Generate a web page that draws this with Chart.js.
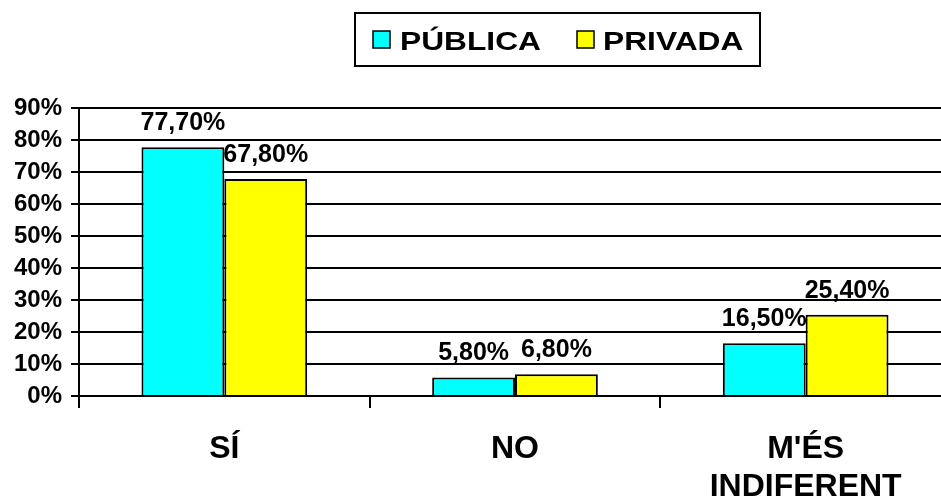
<!DOCTYPE html>
<html>
<head>
<meta charset="utf-8">
<script src="https://cdn.jsdelivr.net/npm/chart.js@4/dist/chart.umd.min.js"></script>
<style>
    html, body { margin: 0; padding: 0; background: #fff; overflow: hidden; }
    #wrap { width: 961px; height: 498px; }
</style>
</head>
<body>
<div id="wrap"><canvas id="chartOne" width="961" height="498"></canvas></div>
<script>
// Data
const categories = ['SÍ', 'NO', ["M'ÉS", 'INDIFERENT']];
const seriesNames = ['PÚBLICA', 'PRIVADA'];
const publica = [77.7, 5.8, 16.5];
const privada = [67.8, 6.8, 25.4];
const yTicks = [0, 10, 20, 30, 40, 50, 60, 70, 80, 90];

const colors = ['#00FFFF', '#FFFF00'];
const fontFamily = '"Liberation Sans", Arial, Helvetica, sans-serif';

// Utility
const formatPct = v => v.toFixed(2).replace('.', ',') + '%';

// Value labels above each bar
const valueLabels = {
    id: 'valueLabels',
    afterDatasetsDraw(chart) {
        const ctx = chart.ctx;
        ctx.save();
        ctx.font = 'bold 25px ' + fontFamily;
        ctx.fillStyle = '#000';
        ctx.textAlign = 'center';
        ctx.textBaseline = 'alphabetic';
        chart.data.datasets.forEach((ds, i) => {
            chart.getDatasetMeta(i).data.forEach((bar, j) => {
                ctx.fillText(formatPct(ds.data[j]), bar.x, bar.y - 17);
            });
        });
        ctx.restore();
    }
};

// Boxed legend at the top
const boxLegend = {
    id: 'boxLegend',
    afterDraw(chart) {
        const ctx = chart.ctx;
        ctx.save();
        ctx.lineWidth = 2;
        ctx.strokeStyle = '#000';
        ctx.strokeRect(355, 13, 405, 53);
        const items = [
            { marker: 373, text: 400 },
            { marker: 577, text: 603 }
        ];
        ctx.font = 'bold 26px ' + fontFamily;
        ctx.textBaseline = 'alphabetic';
        items.forEach((it, i) => {
            ctx.fillStyle = colors[i];
            ctx.fillRect(it.marker, 31, 17, 17);
            ctx.lineWidth = 1.5;
            ctx.strokeStyle = '#000';
            ctx.strokeRect(it.marker, 31, 17, 17);
            ctx.fillStyle = '#000';
            ctx.save();
            ctx.translate(it.text, 50);
            ctx.scale(1.22, 1);
            ctx.fillText(seriesNames[i], 0, 0);
            ctx.restore();
        });
        ctx.restore();
    }
};

function initializeChart() {
    return new Chart(document.getElementById('chartOne').getContext('2d'), {
        type: 'bar',
        data: {
            labels: categories,
            datasets: [{
                label: seriesNames[0],
                data: publica,
                backgroundColor: colors[0],
                borderColor: '#000',
                borderWidth: 2,
                categoryPercentage: 0.57,
                barPercentage: 1.0
            }, {
                label: seriesNames[1],
                data: privada,
                backgroundColor: colors[1],
                borderColor: '#000',
                borderWidth: 2,
                categoryPercentage: 0.57,
                barPercentage: 1.0
            }]
        },
        options: {
            responsive: false,
            animation: false,
            layout: { padding: { top: 108, right: 10, left: 0, bottom: 0 } },
            plugins: {
                legend: { display: false },
                tooltip: { enabled: false }
            },
            scales: {
                x: {
                    grid: {
                        offset: true,
                        drawOnChartArea: false,
                        tickLength: 12,
                        color: '#000',
                        lineWidth: 2
                    },
                    border: { color: '#000', width: 2 },
                    ticks: {
                        color: '#000',
                        padding: 22,
                        maxRotation: 0,
                        font: { family: fontFamily, size: 32, weight: 'bold' }
                    },
                    afterFit: scale => { scale.height = 102; }
                },
                y: {
                    min: 0,
                    max: 90,
                    afterBuildTicks: scale => {
                        scale.ticks = yTicks.map(v => ({ value: v }));
                    },
                    grid: {
                        color: '#000',
                        lineWidth: 2,
                        tickLength: 8
                    },
                    border: { color: '#000', width: 2 },
                    ticks: {
                        color: '#000',
                        padding: 9,
                        callback: v => v + '%',
                        font: { family: fontFamily, size: 24, weight: 'bold' }
                    },
                    afterFit: scale => { scale.width = 79; }
                }
            }
        },
        plugins: [valueLabels, boxLegend]
    });
}

document.addEventListener('DOMContentLoaded', () => {
    initializeChart();
});
</script>
</body>
</html>
